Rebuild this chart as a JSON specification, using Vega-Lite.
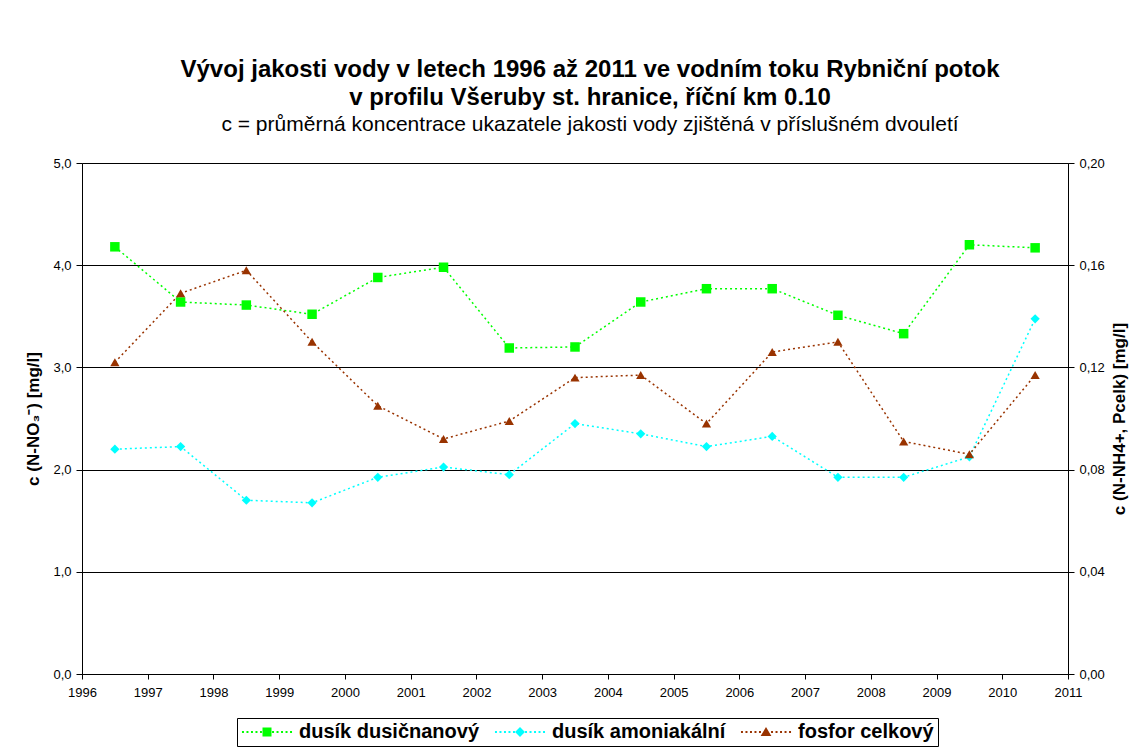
{
  "$schema": "https://vega.github.io/schema/vega-lite/v6.json",
  "width": 986,
  "height": 511,
  "autosize": {"type": "none"},
  "padding": {"left": 82, "top": 163, "right": 65, "bottom": 77},
  "background": "white",
  "config": {
    "font": "Liberation Sans",
    "view": {"stroke": "#808080"},
    "axis": {
      "domainColor": "black",
      "tickColor": "black",
      "labelColor": "black",
      "titleColor": "black",
      "labelFont": "Liberation Sans",
      "titleFont": "Liberation Sans",
      "labelFontSize": 13,
      "titleFontSize": 17,
      "titleFontWeight": "bold",
      "tickSize": 6,
      "labelPadding": 5
    }
  },
  "title": {
    "text": ["Vývoj jakosti vody v letech 1996 až 2011 ve vodním toku Rybniční potok", "v profilu Všeruby st. hranice, říční km 0.10"],
    "subtitle": "c = průměrná koncentrace ukazatele jakosti vody zjištěná v příslušném dvouletí",
    "anchor": "middle",
    "dx": 15,
    "offset": 22,
    "font": "Liberation Sans",
    "fontSize": 24,
    "fontWeight": "bold",
    "lineHeight": 28,
    "color": "black",
    "subtitleFont": "Liberation Sans",
    "subtitleFontSize": 21,
    "subtitleColor": "black",
    "subtitlePadding": 4
  },
  "data": {
    "values": [
      {"year": 1996.5, "series": "dusík dusičnanový", "value": 4.18},
      {"year": 1997.5, "series": "dusík dusičnanový", "value": 3.64},
      {"year": 1998.5, "series": "dusík dusičnanový", "value": 3.61},
      {"year": 1999.5, "series": "dusík dusičnanový", "value": 3.52},
      {"year": 2000.5, "series": "dusík dusičnanový", "value": 3.88},
      {"year": 2001.5, "series": "dusík dusičnanový", "value": 3.98},
      {"year": 2002.5, "series": "dusík dusičnanový", "value": 3.19},
      {"year": 2003.5, "series": "dusík dusičnanový", "value": 3.2},
      {"year": 2004.5, "series": "dusík dusičnanový", "value": 3.64},
      {"year": 2005.5, "series": "dusík dusičnanový", "value": 3.77},
      {"year": 2006.5, "series": "dusík dusičnanový", "value": 3.77},
      {"year": 2007.5, "series": "dusík dusičnanový", "value": 3.51},
      {"year": 2008.5, "series": "dusík dusičnanový", "value": 3.33},
      {"year": 2009.5, "series": "dusík dusičnanový", "value": 4.2},
      {"year": 2010.5, "series": "dusík dusičnanový", "value": 4.17},
      {"year": 1996.5, "series": "dusík amoniakální", "value": 0.088},
      {"year": 1997.5, "series": "dusík amoniakální", "value": 0.089},
      {"year": 1998.5, "series": "dusík amoniakální", "value": 0.068},
      {"year": 1999.5, "series": "dusík amoniakální", "value": 0.067},
      {"year": 2000.5, "series": "dusík amoniakální", "value": 0.077},
      {"year": 2001.5, "series": "dusík amoniakální", "value": 0.081},
      {"year": 2002.5, "series": "dusík amoniakální", "value": 0.078},
      {"year": 2003.5, "series": "dusík amoniakální", "value": 0.098},
      {"year": 2004.5, "series": "dusík amoniakální", "value": 0.094},
      {"year": 2005.5, "series": "dusík amoniakální", "value": 0.089},
      {"year": 2006.5, "series": "dusík amoniakální", "value": 0.093},
      {"year": 2007.5, "series": "dusík amoniakální", "value": 0.077},
      {"year": 2008.5, "series": "dusík amoniakální", "value": 0.077},
      {"year": 2009.5, "series": "dusík amoniakální", "value": 0.085},
      {"year": 2010.5, "series": "dusík amoniakální", "value": 0.139},
      {"year": 1996.5, "series": "fosfor celkový", "value": 0.122},
      {"year": 1997.5, "series": "fosfor celkový", "value": 0.149},
      {"year": 1998.5, "series": "fosfor celkový", "value": 0.158},
      {"year": 1999.5, "series": "fosfor celkový", "value": 0.13},
      {"year": 2000.5, "series": "fosfor celkový", "value": 0.105},
      {"year": 2001.5, "series": "fosfor celkový", "value": 0.092},
      {"year": 2002.5, "series": "fosfor celkový", "value": 0.099},
      {"year": 2003.5, "series": "fosfor celkový", "value": 0.116},
      {"year": 2004.5, "series": "fosfor celkový", "value": 0.117},
      {"year": 2005.5, "series": "fosfor celkový", "value": 0.098},
      {"year": 2006.5, "series": "fosfor celkový", "value": 0.126},
      {"year": 2007.5, "series": "fosfor celkový", "value": 0.13},
      {"year": 2008.5, "series": "fosfor celkový", "value": 0.091},
      {"year": 2009.5, "series": "fosfor celkový", "value": 0.086},
      {"year": 2010.5, "series": "fosfor celkový", "value": 0.117}
    ]
  },
  "encoding": {
    "x": {
      "field": "year",
      "type": "quantitative",
      "scale": {"domain": [1996, 2011], "nice": false, "zero": false},
      "axis": {
        "title": null,
        "values": [1996, 1997, 1998, 1999, 2000, 2001, 2002, 2003, 2004, 2005, 2006, 2007, 2008, 2009, 2010, 2011],
        "format": "d",
        "grid": false,
        "labelPadding": 7,
        "tickSize": 5,
        "labelFlush": false,
        "labelOverlap": false
      }
    },
    "color": {
      "field": "series",
      "type": "nominal",
      "scale": {
        "domain": ["dusík dusičnanový", "dusík amoniakální", "fosfor celkový"],
        "range": ["#00ff00", "#00ffff", "#993300"]
      },
      "legend": {
        "title": null,
        "orient": "none",
        "direction": "horizontal",
        "legendX": 155,
        "legendY": 555,
        "strokeColor": "black",
        "fillColor": "white",
        "padding": 4,
        "columnPadding": 14,
        "labelFont": "Liberation Sans",
        "labelFontSize": 20,
        "labelFontWeight": "bold",
        "labelColor": "black",
        "labelOffset": 22,
        "symbolOffset": 16,
        "symbolSize": 324,
        "symbolStrokeWidth": 0,
        "labelLimit": 300,
        "encode": {
          "symbols": {
            "update": {
              "shape": {"signal": "(datum.value == 'dusík dusičnanový' ? 'M-0.5,-0.5h1v1h-1z' : datum.value == 'dusík amoniakální' ? 'M0,-0.55L0.55,0L0,0.55L-0.55,0z' : 'M0,-0.55L0.6,0.45L-0.6,0.45z') + 'M-2.78,-0.11h0.22v0.22h-0.22zM-2.28,-0.11h0.22v0.22h-0.22zM-1.78,-0.11h0.22v0.22h-0.22zM-1.28,-0.11h0.22v0.22h-0.22zM-0.78,-0.11h0.22v0.22h-0.22zM0.56,-0.11h0.22v0.22h-0.22zM1.06,-0.11h0.22v0.22h-0.22zM1.56,-0.11h0.22v0.22h-0.22zM2.06,-0.11h0.22v0.22h-0.22zM2.56,-0.11h0.22v0.22h-0.22z'"},
              "fill": {"signal": "datum.value == 'dusík dusičnanový' ? '#00ff00' : datum.value == 'dusík amoniakální' ? '#00ffff' : '#993300'"},
              "fillOpacity": {"value": 1},
              "opacity": {"value": 1},
              "strokeWidth": {"value": 0}
            }
          }
        }
      }
    }
  },
  "layer": [
    {
      "transform": [{"filter": "datum.series == 'dusík dusičnanový'"}],
      "encoding": {
        "y": {
          "field": "value",
          "type": "quantitative",
          "scale": {"domain": [0, 5], "nice": false},
          "axis": {
            "orient": "left",
            "title": "c (N-NO₃⁻) [mg/l]",
            "values": [0, 1, 2, 3, 4, 5],
            "labelExpr": "replace(format(datum.value, '.1f'), '.', ',')",
            "grid": true,
            "gridColor": "black",
            "gridWidth": 1,
            "titlePadding": 10
          }
        }
      },
      "layer": [
        {"mark": {"type": "line", "strokeWidth": 1.5, "strokeDash": [2, 3]}},
        {"mark": {"type": "point", "shape": "square", "filled": true, "size": 90, "opacity": 1}}
      ]
    },
    {
      "transform": [{"filter": "datum.series != 'dusík dusičnanový'"}],
      "encoding": {
        "y": {
          "field": "value",
          "type": "quantitative",
          "scale": {"domain": [0, 0.2], "nice": false},
          "axis": {
            "orient": "right",
            "title": "c (N-NH4+, Pcelk) [mg/l]",
            "values": [0, 0.04, 0.08, 0.12, 0.16, 0.2],
            "labelExpr": "replace(format(datum.value, '.2f'), '.', ',')",
            "grid": false,
            "titleAngle": 270,
            "titlePadding": 24
          }
        }
      },
      "layer": [
        {"mark": {"type": "line", "strokeWidth": 1.5, "strokeDash": [2, 3]}},
        {
          "mark": {"type": "point", "filled": true, "size": 85, "opacity": 1},
          "encoding": {
            "shape": {
              "field": "series",
              "type": "nominal",
              "scale": {"domain": ["dusík amoniakální", "fosfor celkový"], "range": ["diamond", "triangle-up"]},
              "legend": null
            }
          }
        }
      ]
    }
  ],
  "resolve": {"scale": {"y": "independent", "shape": "independent"}}
}
